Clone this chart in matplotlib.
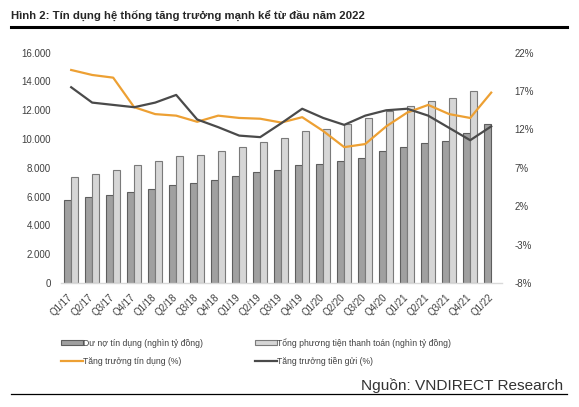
import numpy as np
import matplotlib
matplotlib.use("Agg")
import matplotlib.pyplot as plt
from matplotlib.lines import Line2D
from matplotlib.patches import Patch
from matplotlib.ticker import FuncFormatter, FixedLocator

plt.rcParams['font.family'] = ['Liberation Sans', 'DejaVu Sans']

# Data
quarters = ['Q1/17', 'Q2/17', 'Q3/17', 'Q4/17', 'Q1/18', 'Q2/18', 'Q3/18', 'Q4/18',
            'Q1/19', 'Q2/19', 'Q3/19', 'Q4/19', 'Q1/20', 'Q2/20', 'Q3/20', 'Q4/20',
            'Q1/21', 'Q2/21', 'Q3/21', 'Q4/21', 'Q1/22']
du_no = [5750, 5970, 6130, 6290, 6520, 6800, 6940, 7190, 7400, 7700, 7840,
         8190, 8250, 8460, 8650, 9160, 9430, 9760, 9850, 10400, 11030]
tong_pttt = [7350, 7580, 7860, 8190, 8490, 8830, 8920, 9200, 9430, 9830, 10060,
             10540, 10730, 11030, 11440, 11980, 12300, 12620, 12860, 13360, np.nan]
tang_truong_td = [19.75, 19.1, 18.75, 14.9, 14.0, 13.8, 13.0, 13.8, 13.5, 13.4, 12.9,
                  13.6, 11.8, 9.7, 10.1, 12.4, 14.2, 15.2, 14.0, 13.5, 16.8]
tang_truong_tg = [17.5, 15.5, 15.2, 14.9, 15.5, 16.5, 13.3, 12.3, 11.2, 11.0, 12.8,
                  14.7, 13.5, 12.6, 13.8, 14.5, 14.7, 13.8, 12.2, 10.6, 12.4]

left_ticks = [0, 2000, 4000, 6000, 8000, 10000, 12000, 14000, 16000]
right_ticks = [-8, -3, 2, 7, 12, 17, 22]

c_dark = '#a0a0a0'
c_dark_edge = '#5e5e5e'
c_light = '#d6d6d6'
c_light_edge = '#7a7a7a'
c_orange = '#eda033'
c_line = '#4a4a4a'

fig = plt.figure(figsize=(5.79, 4.07), dpi=100)

ax = fig.add_axes([0.1048, 0.3047, 0.7617, 0.5658])
x = np.arange(len(quarters))
w = 0.34
ax.bar(x - w / 2, du_no, w, color=c_dark, edgecolor=c_dark_edge, linewidth=0.8, zorder=2)
ax.bar(x + w / 2, tong_pttt, w, color=c_light, edgecolor=c_light_edge, linewidth=0.8, zorder=2)
ax.set_xlim(-0.5, len(quarters) - 0.5)
ax.set_ylim(0, 16000)
ax.yaxis.set_major_locator(FixedLocator(left_ticks))
ax.yaxis.set_major_formatter(FuncFormatter(lambda v, p: f'{int(v):,}'.replace(',', '.')))
ax.set_xticks(x)
ax.set_xticklabels(quarters, rotation=45, ha='right', va='center', rotation_mode='anchor')
for s in ['top', 'right', 'left']:
    ax.spines[s].set_visible(False)
ax.spines['bottom'].set_color('#d9d9d9')
ax.spines['bottom'].set_linewidth(1.0)
ax.tick_params(axis='both', length=0, labelsize=7, colors='#404040')
ax.tick_params(axis='x', pad=9)
ax.tick_params(axis='y', pad=7)

ax2 = ax.twinx()
ax2.plot(x, tang_truong_td, color=c_orange, linewidth=1.6, zorder=3)
ax2.plot(x, tang_truong_tg, color=c_line, linewidth=1.6, zorder=3)
ax2.set_ylim(-8, 22)
ax2.yaxis.set_major_locator(FixedLocator(right_ticks))
ax2.yaxis.set_major_formatter(FuncFormatter(lambda v, p: f'{int(v)}%'))
for s in ['top', 'right', 'left', 'bottom']:
    ax2.spines[s].set_visible(False)
ax2.tick_params(axis='y', length=0, labelsize=7, colors='#404040', pad=9)

handles = [Patch(facecolor=c_dark, edgecolor=c_dark_edge, linewidth=0.8),
           Line2D([], [], color=c_orange, linewidth=1.6),
           Patch(facecolor=c_light, edgecolor=c_light_edge, linewidth=0.8),
           Line2D([], [], color=c_line, linewidth=1.6)]
labels = ['Dư nợ tín dụng (nghìn tỷ đồng)', 'Tăng trưởng tín dụng (%)',
          'Tổng phương tiện thanh toán (nghìn tỷ đồng)', 'Tăng trưởng tiền gửi (%)']
fig.legend(handles, labels, loc='upper left', bbox_to_anchor=(0.092, 0.188), ncol=2,
           frameon=False, fontsize=6.2, handlelength=2.5, handleheight=0.55,
           handletextpad=0.1, columnspacing=6.0, labelspacing=1.0, labelcolor='#404040')

fig.text(0.019, 0.962, 'Hình 2: Tín dụng hệ thống tăng trưởng mạnh kể từ đầu năm 2022',
         fontsize=8.2, fontweight='bold', color='#262626', va='center', ha='left')
fig.add_artist(Line2D([0.019, 0.979], [0.934, 0.934], color='black', linewidth=2.2))
fig.text(0.972, 0.052, 'Nguồn: VNDIRECT Research', fontsize=11.1, color='#333333',
         ha='right', va='center')
fig.add_artist(Line2D([0.019, 0.979], [0.032, 0.032], color='black', linewidth=0.9))

fig.savefig('out.png', dpi=100)
